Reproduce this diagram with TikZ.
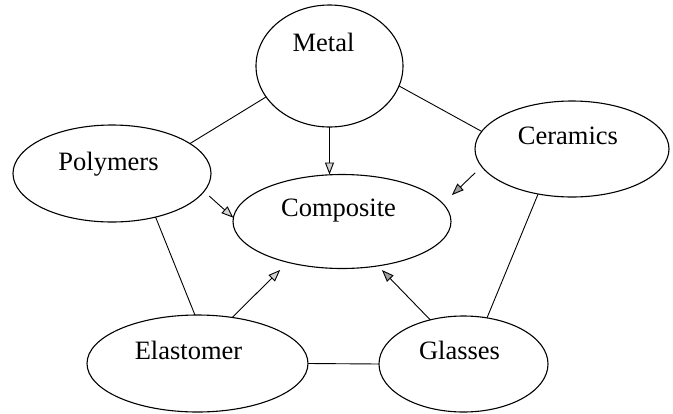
\documentclass[tikz,border=0pt]{standalone}
\usepackage{fontspec}
\setmainfont{Liberation Serif}
\usetikzlibrary{shapes.geometric,arrows.meta}

\tikzset{
  blob/.style={ellipse, draw, line width=1.1pt, inner sep=0pt, outer sep=0pt},
  txt/.style={font=\fontsize{26.5}{30}\selectfont, text height=0.7em, text depth=0.2em, inner sep=0pt},
  link/.style={line width=0.9pt},
  feed/.style={line width=0.9pt, -{Triangle[open, length=12pt, width=9pt, fill=gray!35]}},
  feeddark/.style={line width=0.9pt, -{Triangle[open, length=12pt, width=9pt, fill=gray!75]}}
}

\begin{document}
\begin{tikzpicture}[x=1pt, y=-1pt]
  \useasboundingbox (0,0) rectangle (673,413);

  % material classes
  \node[blob, minimum width=147pt, minimum height=122pt,
        label={[txt, xshift=-6pt, yshift=17.5pt]center:Metal}] (metal) at (329.5,66) {};
  \node[blob, minimum width=198pt, minimum height=97pt,
        label={[txt, xshift=-3.5pt, yshift=6pt]center:Polymers}] (poly) at (112,173.5) {};
  \node[blob, minimum width=194pt, minimum height=96pt,
        label={[txt, xshift=-4pt, yshift=7.5pt]center:Ceramics}] (cer) at (572,149) {};
  \node[blob, minimum width=218pt, minimum height=94pt,
        label={[txt, xshift=-3.5pt, yshift=8pt]center:Composite}] (comp) at (342,221.5) {};
  \node[blob, minimum width=221pt, minimum height=97pt,
        label={[txt, xshift=-9pt, yshift=7pt]center:Elastomer}] (elast) at (197.5,363.5) {};
  \node[blob, minimum width=169pt, minimum height=96pt,
        label={[txt, xshift=-4pt, yshift=7.5pt]center:Glasses}] (glass) at (463.5,364) {};

  % outer ring
  \draw[link] (metal.206.4) -- (poly.21.4);
  \draw[link] (metal.-16.8) -- (cer.169.8);
  \draw[link] (poly.-45.3) -- (elast.93);
  \draw[link] (cer.233.5) -- (glass.63.9);
  \draw[link] (elast.east) -- (glass.west);

  % contributions to the composite
  \draw[feed] (metal.south) -- (metal.south |- comp.north);
  \draw[feed, shorten <=7pt] (poly.-11.7) -- (comp.178);
  \draw[feeddark, shorten <=9pt, shorten >=12.5pt] (cer.191.1) -- (comp.10);
  \draw[feed, shorten >=10.8pt] (elast.53.2) -- (comp.217.6);
  \draw[feeddark, shorten >=5.8pt] (glass.127) -- (comp.-51);
\end{tikzpicture}
\end{document}
